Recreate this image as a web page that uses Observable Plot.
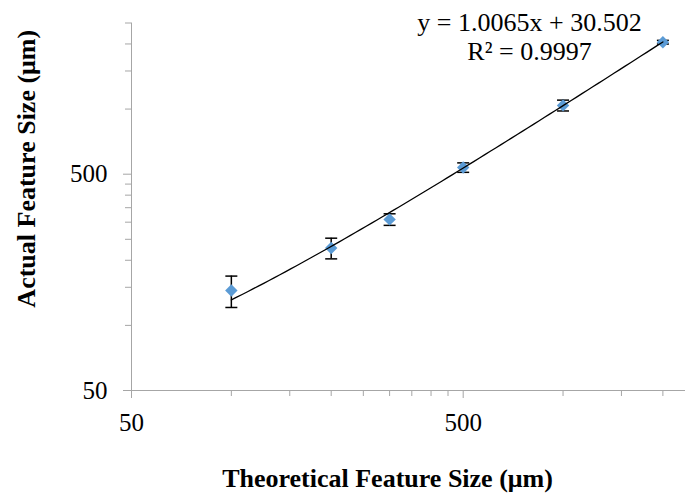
<!DOCTYPE html>
<html><head><meta charset="utf-8">
<script src="https://cdn.jsdelivr.net/npm/d3@7"></script>
<script src="https://cdn.jsdelivr.net/npm/@observablehq/plot@0.6"></script>
<style>body{margin:0;background:#fff} svg{display:block}</style>
</head><body><div id="chart"></div>
<script>
// Data
const theoretical = [100, 200, 300, 500, 1000, 2000];
const actual      = [145, 228, 309, 537, 1040, 2038];
const errorBar    = [24, 25, 19, 27, 60, 40];
// Trendline shown on the chart: y = 1.0065x + 30.502
const slope = 1.0065, intercept = 30.502;
const equationText = "y = 1.0065x + 30.502\nR² = 0.9997";
const majorTicks = [50, 500];
const xMinorTicks = [100,150,200,250,300,350,400,450,1000,1500,2000];
const yMinorTicks = [100,150,200,250,300,350,400,450,1000,1500,2000,2500];
const xTitle = "Theoretical Feature Size (μm)";
const yTitle = "Actual Feature Size (μm)";

const points = theoretical.map((x, i) => ({x, y: actual[i], lo: actual[i] - errorBar[i], hi: actual[i] + errorBar[i]}));
const xLo = d3.min(theoretical), xHi = d3.max(theoretical);
const trend = d3.range(0, 81).map(i => {
  const x = xLo * Math.pow(xHi / xLo, i / 80);
  return {x, y: slope * x + intercept};
});

const capSymbol = {draw(ctx) { ctx.moveTo(-6, 0); ctx.lineTo(6, 0); }};
const axisColor = "#a6a6a6";
const font = "'Liberation Serif', 'Times New Roman', serif";

const chart = Plot.plot({
  width: 685, height: 498,
  marginLeft: 131, marginRight: 0, marginTop: 22.5, marginBottom: 108,
  style: {fontFamily: font, fontSize: "25px", color: "black", background: "white"},
  x: {type: "log", domain: [50, 2340], axis: null},
  y: {type: "log", domain: [50, 2500], axis: null},
  marks: [
    // minor & major ticks
    Plot.axisX(xMinorTicks, {tickSize: 6, tickFormat: () => "", stroke: axisColor, label: null}),
    Plot.axisX(majorTicks, {tickSize: 8, tickFormat: () => "", stroke: axisColor, label: null}),
    Plot.axisY(yMinorTicks, {tickSize: 6, tickFormat: () => "", stroke: axisColor, label: null}),
    Plot.axisY(majorTicks, {tickSize: 8, tickFormat: () => "", stroke: axisColor, label: null}),
    // tick labels
    Plot.text(majorTicks, {x: d => d, frameAnchor: "bottom", dy: 23, lineAnchor: "top", textAnchor: "middle", text: d => String(d), fontSize: 25, fill: "black"}),
    Plot.text(majorTicks, {y: d => d, frameAnchor: "left", dx: -24, lineAnchor: "middle", textAnchor: "end", text: d => String(d), fontSize: 25, fill: "black"}),
    // axis lines
    Plot.ruleY([50], {stroke: axisColor}),
    Plot.ruleX([50], {stroke: axisColor}),
    // error bars
    Plot.ruleX(points, {x: "x", y1: "lo", y2: "hi", stroke: "black", strokeWidth: 1.5}),
    Plot.dot(points, {x: "x", y: "lo", symbol: capSymbol, stroke: "black", strokeWidth: 1.5, r: 3}),
    Plot.dot(points, {x: "x", y: "hi", symbol: capSymbol, stroke: "black", strokeWidth: 1.5, r: 3}),
    // points
    Plot.dot(points, {x: "x", y: "y", symbol: "diamond2", fill: "#5B9BD5", stroke: "none", r: 5.6}),
    // trendline
    Plot.line(trend, {x: "x", y: "y", stroke: "black", strokeWidth: 1.3}),
    // equation
    Plot.text([equationText], {frameAnchor: "top-left", dx: 398, dy: -13, textAnchor: "middle", lineAnchor: "top", lineHeight: 1.115, fontSize: 26, fill: "black"}),
    // axis titles
    Plot.text([xTitle], {frameAnchor: "bottom-left", dx: 256, dy: 78.5, textAnchor: "middle", lineAnchor: "top", fontSize: 26, fontWeight: "bold", fill: "black"}),
    Plot.text([yTitle], {frameAnchor: "left", dx: -105, dy: -38, rotate: -90, textAnchor: "middle", lineAnchor: "middle", fontSize: 26, fontWeight: "bold", fill: "black"})
  ]
});
document.getElementById("chart").appendChild(chart);
</script>
</body></html>
